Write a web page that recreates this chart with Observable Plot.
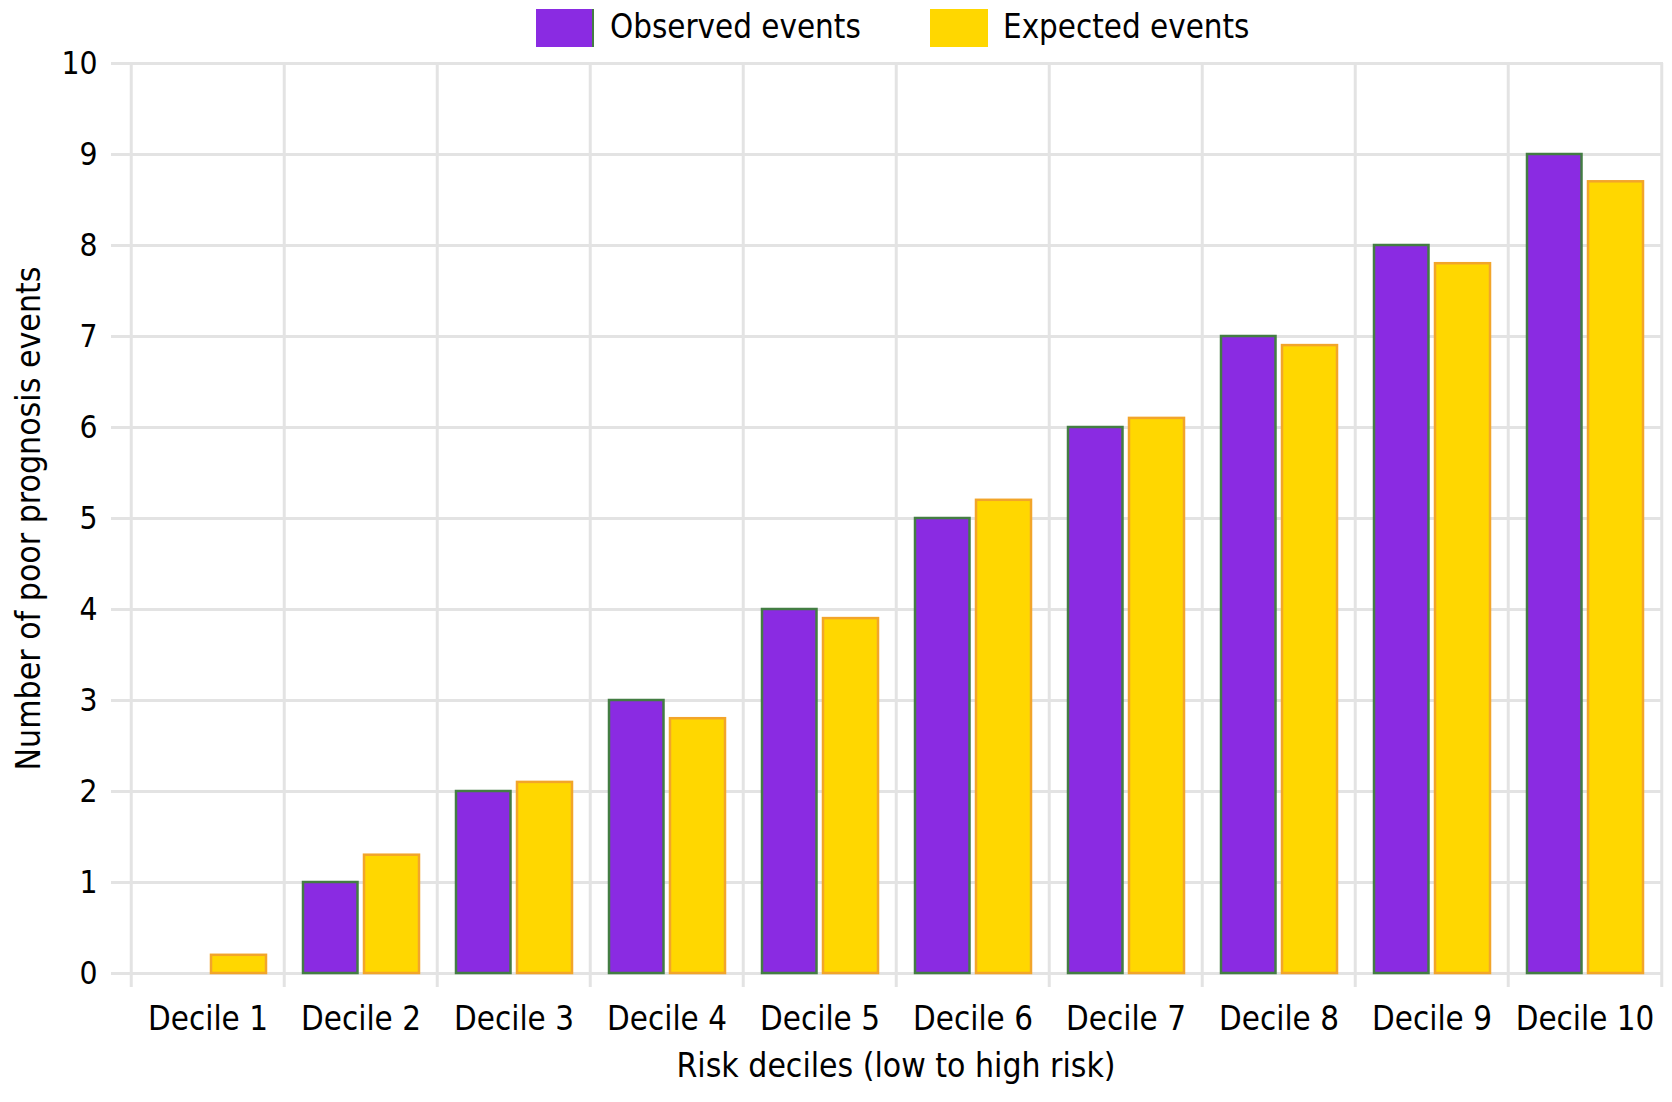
<!DOCTYPE html>
<html>
<head>
<meta charset="utf-8">
<script src="https://cdn.jsdelivr.net/npm/d3@7"></script>
<script src="https://cdn.jsdelivr.net/npm/@observablehq/plot@0.6"></script>
<style>
  html, body { margin: 0; padding: 0; background: #ffffff; }
  body { font-family: "DejaVu Sans Condensed", "DejaVu Sans", sans-serif; color: #000; }
  #legend { position: relative; height: 50px; width: 1672px; }
  .sw { position: absolute; top: 9px; width: 58px; height: 38px; box-sizing: border-box; }
  .lt { position: absolute; top: 7px; font-size: 32.8px; line-height: 40px; white-space: nowrap; }
</style>
</head>
<body>
<div id="legend"></div>
<div id="chart"></div>
<script>
const deciles = ["Decile 1", "Decile 2", "Decile 3", "Decile 4", "Decile 5", "Decile 6", "Decile 7", "Decile 8", "Decile 9", "Decile 10"];
const observed = [0, 1, 2, 3, 4, 5, 6, 7, 8, 9];
const expected = [0.2, 1.3, 2.1, 2.8, 3.9, 5.2, 6.1, 6.9, 7.8, 8.7];
const seriesNames = ["Observed events", "Expected events"];
const yTicks = [0, 1, 2, 3, 4, 5, 6, 7, 8, 9, 10];
const xTitle = "Risk deciles (low to high risk)";
const yTitle = "Number of poor prognosis events";

const colors = {
  obsFill: "#8a2be2", obsStroke: "#437d43",
  expFill: "#ffd700", expStroke: "#f2a52a",
  grid: "#e3e3e3"
};

// Legend (HTML, above the SVG)
const legend = document.getElementById("legend");
legend.innerHTML = `
  <div class="sw" style="left:536px;background:${colors.obsFill};border-right:2px solid ${colors.obsStroke};"></div>
  <div class="lt" style="left:610px;">${seriesNames[0]}</div>
  <div class="sw" style="left:930px;background:${colors.expFill};"></div>
  <div class="lt" style="left:1003px;">${seriesNames[1]}</div>`;

const W = 1672, H = 1052;
const mL = 128, mR = 9, mT = 13, mB = 129;
const bw = (W - mL - mR) / deciles.length;

const data = deciles.map((d, i) => ({decile: d, observed: observed[i], expected: expected[i]}));

const chart = Plot.plot({
  width: W,
  height: H,
  marginLeft: mL,
  marginRight: mR,
  marginTop: mT,
  marginBottom: mB,
  style: {fontFamily: '"DejaVu Sans Condensed", "DejaVu Sans", sans-serif', fontSize: "31px", color: "#000", background: "#fff", overflow: "visible"},
  x: {domain: deciles, padding: 0, label: null},
  y: {domain: [0, 10], label: null},
  marks: [
    Plot.ruleY(yTicks, {stroke: colors.grid, strokeWidth: 3, insetLeft: -17}),
    Plot.ruleX(deciles, {x: d => d, dx: -bw / 2, stroke: colors.grid, strokeWidth: 3, insetBottom: -14}),
    Plot.ruleX([deciles[deciles.length - 1]], {x: d => d, dx: bw / 2, stroke: colors.grid, strokeWidth: 3, insetBottom: -14}),
    Plot.barY(data, {x: "decile", y: "observed", fill: colors.obsFill, stroke: colors.obsStroke, strokeWidth: 2.5, insetLeft: 19, insetRight: 79.5}),
    Plot.barY(data, {x: "decile", y: "expected", fill: colors.expFill, stroke: colors.expStroke, strokeWidth: 2.5, insetLeft: 80, insetRight: 18}),
    Plot.axisY({ticks: yTicks, tickSize: 0, tickPadding: 31, fontSize: 31.5, label: null}),
    Plot.axisX({tickSize: 0, tickPadding: 33, fontSize: 32.8, label: null}),
    Plot.text([xTitle], {frameAnchor: "bottom", dy: 93, fontSize: 33.4, lineAnchor: "middle", textAnchor: "middle"}),
    Plot.text([yTitle], {frameAnchor: "left", rotate: -90, dx: -99, fontSize: 33.5, lineAnchor: "middle", textAnchor: "middle"})
  ]
});
document.getElementById("chart").appendChild(chart);
</script>
</body>
</html>
